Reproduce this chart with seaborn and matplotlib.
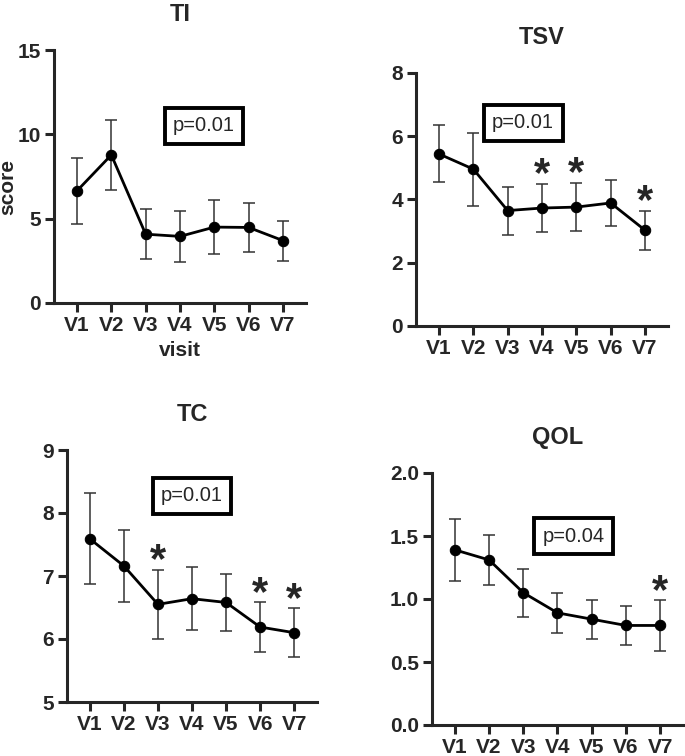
import numpy as np
import pandas as pd
import matplotlib
matplotlib.use("Agg")
import matplotlib.pyplot as plt
import seaborn as sns

visits = ["V1", "V2", "V3", "V4", "V5", "V6", "V7"]

ti_mean = [6.65, 8.78, 4.08, 3.95, 4.50, 4.48, 3.70]
ti_sd = [1.96, 2.07, 1.48, 1.50, 1.60, 1.47, 1.19]

tsv_mean = [5.44, 4.96, 3.65, 3.73, 3.76, 3.89, 3.03]
tsv_sd = [0.90, 1.15, 0.76, 0.77, 0.77, 0.74, 0.62]

tc_mean = [7.59, 7.16, 6.55, 6.64, 6.58, 6.19, 6.10]
tc_sd = [0.72, 0.57, 0.55, 0.50, 0.45, 0.40, 0.39]

qol_mean = [1.39, 1.31, 1.05, 0.89, 0.84, 0.79, 0.79]
qol_sd = [0.245, 0.20, 0.19, 0.16, 0.156, 0.153, 0.20]

ti_sig = []
tsv_sig = ["V4", "V5", "V7"]
tc_sig = ["V3", "V6", "V7"]
qol_sig = ["V7"]

p_texts = ["p=0.01", "p=0.01", "p=0.01", "p=0.04"]

sns.set_style("ticks")
plt.rcParams['font.family'] = ['Liberation Sans', 'DejaVu Sans']

W, H = 685, 756
fig = plt.figure(figsize=(W / 100, H / 100), dpi=100)


def panel(rect, title, mean, sd, sig, ylim, yticks, fmt, ptext, pxy):
    l, t, r, b = rect
    ax = fig.add_axes([l / W, 1 - b / H, (r - l) / W, (b - t) / H])
    x = np.arange(len(visits))
    df = pd.DataFrame({'x': x, 'score': mean})
    ax.errorbar(x, mean, yerr=sd, fmt='none', ecolor='#333333', elinewidth=1.1,
                capsize=4.5, capthick=1.1, zorder=2)
    sns.lineplot(data=df, x='x', y='score', ax=ax, color='black', linewidth=2,
                 marker='o', markersize=7.5, markeredgecolor='black', zorder=3)
    for v in sig:
        i = visits.index(v)
        ax.annotate('*', (i, mean[i] + sd[i]), xytext=(0, -8.5), textcoords='offset points',
                    ha='center', va='bottom', fontsize=30, fontweight='bold')
    ax.text(pxy[0], pxy[1], ptext, ha='center', va='center', fontsize=14.5,
            bbox=dict(boxstyle='square,pad=0.42', fc='white', ec='black', lw=2.8))
    ax.set_xlim(-0.67, 6.67)
    ax.set_ylim(*ylim)
    ax.set_yticks(yticks)
    ax.set_yticklabels([fmt.format(v) for v in yticks])
    ax.set_xticks(x)
    ax.set_xticklabels(visits)
    ax.set_xlabel('')
    ax.set_ylabel('')
    ax.set_title(title, fontsize=17, fontweight='bold', pad=21)
    for s in ['top', 'right']:
        ax.spines[s].set_visible(False)
    for s in ['left', 'bottom']:
        ax.spines[s].set_linewidth(2.2)
    ax.tick_params(width=2.2, length=6.5, labelsize=15, pad=3)
    for lab in ax.get_xticklabels() + ax.get_yticklabels():
        lab.set_fontweight('bold')
    return ax


ax1 = panel((54, 50, 306, 303), 'TI', ti_mean, ti_sd, ti_sig, (0, 15), [0, 5, 10, 15], '{:.0f}',
            p_texts[0], (3.7, 10.5))
ax1.set_ylabel('score', fontsize=15, fontweight='bold')
ax1.yaxis.set_label_coords(-0.145, 0.46)
ax1.set_xlabel('visit', fontsize=15, fontweight='bold', labelpad=4)

panel((416, 73, 668, 326), 'TSV', tsv_mean, tsv_sd, tsv_sig, (0, 8), [0, 2, 4, 6, 8], '{:.0f}',
      p_texts[1], (2.45, 6.42))
panel((67, 450, 317, 702), 'TC', tc_mean, tc_sd, tc_sig, (5, 9), [5, 6, 7, 8, 9], '{:.0f}',
      p_texts[2], (3.0, 8.27))
panel((432, 473, 683, 725), 'QOL', qol_mean, qol_sd, qol_sig, (0, 2), [0, 0.5, 1.0, 1.5, 2.0], '{:.1f}',
      p_texts[3], (3.47, 1.5))

fig.savefig('out.png', dpi=100)
